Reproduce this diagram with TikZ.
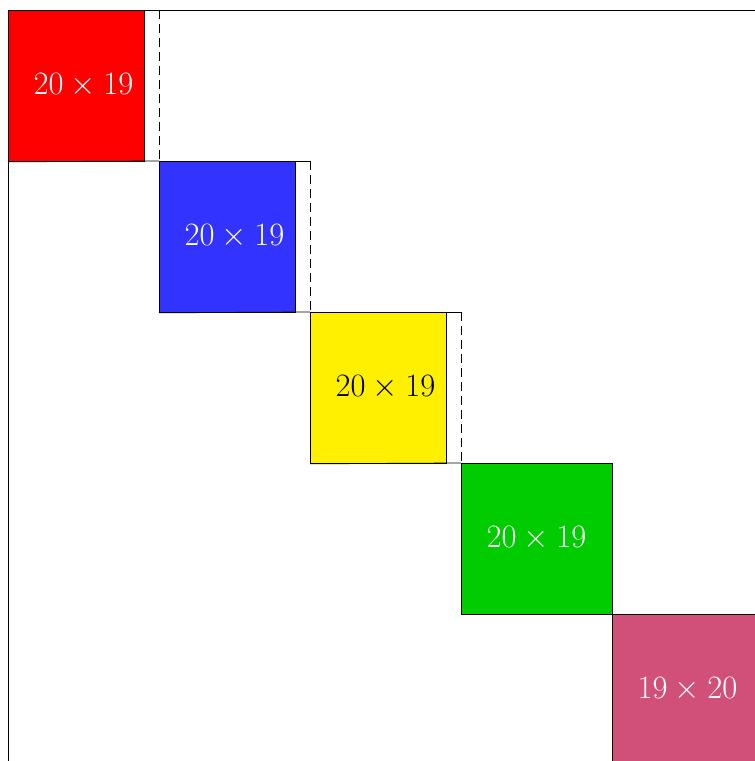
\documentclass[tikz,border=0pt]{standalone}
\usepackage{graphicx}
\usepackage{tikz}
\definecolor{cred}{RGB}{255,0,0}
\definecolor{cblue}{RGB}{51,51,255}
\definecolor{cyellow}{RGB}{255,240,0}
\definecolor{cgreen}{RGB}{0,204,0}
\definecolor{cmag}{RGB}{208,80,122}
\newcommand{\dimtext}[1]{\scalebox{1.31}{\fontsize{24.88}{30}\selectfont$#1$}}
\tikzset{
  frameline/.style={draw=black, line width=0.8pt},
  fillbox/.style={draw=black, line width=0.8pt, rectangle, inner sep=0pt, anchor=north west, minimum height=151pt},
  dimlabel/.style={inner sep=0pt},
  sepline/.style={draw=black, line width=0.8pt, dash pattern=on 9pt off 5pt},
}
\begin{document}
\begin{tikzpicture}[x=1pt,y=-1pt]
\useasboundingbox (0,0) rectangle (755,761);
\clip (0,0) rectangle (755,761);
% outer frame
\draw[frameline] (8,10) rectangle (820,820);
% block 1 (red)
\node[fillbox, fill=cred, minimum width=136pt] (b1) at (8,10) {};
\coordinate (s1t) at (159,10);
\coordinate (s1b) at (159,161);
\draw[frameline] (b1.south west) -- (s1b);
\draw[sepline] (s1t) -- (s1b);
\node[dimlabel, text=white] (t1) at (83.5,85.5) {\dimtext{20\times19}};
% block 2 (blue)
\node[fillbox, fill=cblue, minimum width=136pt] (b2) at (159,161) {};
\coordinate (s2t) at (310,161);
\coordinate (s2b) at (310,312);
\draw[frameline] (b2.north west) -- (s2t);
\draw[frameline] (b2.south west) -- (s2b);
\draw[sepline] (s2t) -- (s2b);
\node[dimlabel, text=white] (t2) at (234.5,236.5) {\dimtext{20\times19}};
% block 3 (yellow)
\node[fillbox, fill=cyellow, minimum width=136pt] (b3) at (310,312) {};
\coordinate (s3t) at (461,312);
\coordinate (s3b) at (461,463);
\draw[frameline] (b3.north west) -- (s3t);
\draw[frameline] (b3.south west) -- (s3b);
\draw[sepline] (s3t) -- (s3b);
\node[dimlabel, text=black] (t3) at (385.5,387.5) {\dimtext{20\times19}};
% block 4 (green)
\node[fillbox, fill=cgreen, minimum width=151pt] (b4) at (461,463) {};
\node[dimlabel, text=white] (t4) at (536.5,538.5) {\dimtext{20\times19}};
% block 5 (magenta)
\node[fillbox, fill=cmag, minimum width=151pt] (b5) at (612,614) {};
\draw[frameline] (b5.north east) -- ++(60,0);
\node[dimlabel, text=white] (t5) at (687.5,689.5) {\dimtext{19\times20}};
\end{tikzpicture}
\end{document}
